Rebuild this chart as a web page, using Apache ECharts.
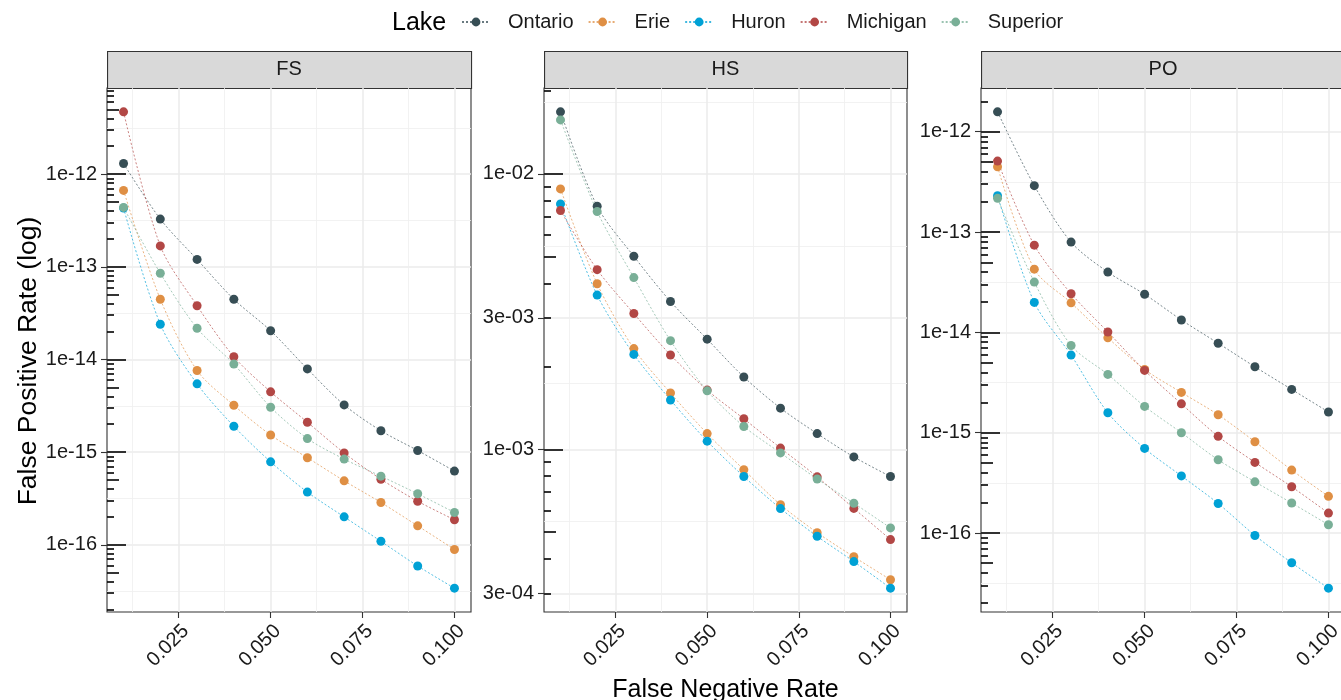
<!DOCTYPE html>
<html>
<head>
<meta charset="utf-8">
<script src="https://cdn.jsdelivr.net/npm/echarts@6/dist/echarts.min.js"></script>
<style>html,body{margin:0;padding:0;background:#fff}#main{width:1341px;height:700px}</style>
</head>
<body>
<div id="main"></div>
<script>
var fnr = [0.01, 0.02, 0.03, 0.04, 0.05, 0.06, 0.07, 0.08, 0.09, 0.10];
var lakes = ['Ontario', 'Erie', 'Huron', 'Michigan', 'Superior'];
var lakeColors = ['#374E55', '#DF8F44', '#00A1D5', '#B24745', '#79AF97'];
var panels = ['FS', 'HS', 'PO'];

// FS panel
var fs_ontario  = [1.30e-12, 3.27e-13, 1.20e-13, 4.46e-14, 2.04e-14, 7.9e-15, 3.23e-15, 1.70e-15, 1.04e-15, 6.24e-16];
var fs_erie     = [6.67e-13, 4.46e-14, 7.6e-15, 3.2e-15, 1.53e-15, 8.7e-16, 4.9e-16, 2.86e-16, 1.60e-16, 8.9e-17];
var fs_huron    = [4.30e-13, 2.40e-14, 5.45e-15, 1.90e-15, 7.85e-16, 3.70e-16, 2.00e-16, 1.09e-16, 5.9e-17, 3.4e-17];
var fs_michigan = [4.70e-12, 1.68e-13, 3.80e-14, 1.07e-14, 4.47e-15, 2.10e-15, 9.8e-16, 5.1e-16, 2.95e-16, 1.86e-16];
var fs_superior = [4.37e-13, 8.5e-14, 2.17e-14, 8.9e-15, 3.05e-15, 1.40e-15, 8.4e-16, 5.5e-16, 3.55e-16, 2.23e-16];

// HS panel
var hs_ontario  = [1.68e-2, 7.63e-3, 5.02e-3, 3.44e-3, 2.51e-3, 1.83e-3, 1.41e-3, 1.14e-3, 9.38e-4, 7.96e-4];
var hs_erie     = [8.82e-3, 3.99e-3, 2.32e-3, 1.60e-3, 1.14e-3, 8.43e-4, 6.29e-4, 4.98e-4, 4.07e-4, 3.36e-4];
var hs_huron    = [7.78e-3, 3.63e-3, 2.21e-3, 1.51e-3, 1.07e-3, 7.96e-4, 6.09e-4, 4.83e-4, 3.91e-4, 3.13e-4];
var hs_michigan = [7.36e-3, 4.49e-3, 3.11e-3, 2.20e-3, 1.64e-3, 1.29e-3, 1.01e-3, 7.94e-4, 6.10e-4, 4.70e-4];
var hs_superior = [1.57e-2, 7.30e-3, 4.20e-3, 2.48e-3, 1.63e-3, 1.21e-3, 9.70e-4, 7.80e-4, 6.37e-4, 5.18e-4];

// PO panel
var po_ontario  = [1.58e-12, 2.90e-13, 7.94e-14, 3.99e-14, 2.40e-14, 1.33e-14, 7.8e-15, 4.54e-15, 2.70e-15, 1.61e-15];
var po_erie     = [4.48e-13, 4.27e-14, 1.97e-14, 8.83e-15, 4.27e-15, 2.52e-15, 1.51e-15, 8.13e-16, 4.24e-16, 2.32e-16];
var po_huron    = [2.30e-13, 1.99e-14, 5.94e-15, 1.58e-15, 6.97e-16, 3.71e-16, 1.97e-16, 9.46e-17, 5.05e-17, 2.82e-17];
var po_michigan = [5.10e-13, 7.4e-14, 2.43e-14, 1.01e-14, 4.18e-15, 1.94e-15, 9.2e-16, 5.06e-16, 2.89e-16, 1.58e-16];
var po_superior = [2.17e-13, 3.17e-14, 7.41e-15, 3.81e-15, 1.83e-15, 1.00e-15, 5.37e-16, 3.24e-16, 1.99e-16, 1.21e-16];

var panelSeries = [
    [fs_ontario, fs_erie, fs_huron, fs_michigan, fs_superior],
    [hs_ontario, hs_erie, hs_huron, hs_michigan, hs_superior],
    [po_ontario, po_erie, po_huron, po_michigan, po_superior]
];

// axis breaks and labels
var x_breaks = [0.025, 0.05, 0.075, 0.1];
var x_labels = ['0.025', '0.050', '0.075', '0.100'];
var fs_breaks = [1e-12, 1e-13, 1e-14, 1e-15, 1e-16];
var fs_labels = ['1e-12', '1e-13', '1e-14', '1e-15', '1e-16'];
var hs_breaks = [1e-2, 3e-3, 1e-3, 3e-4];
var hs_labels = ['1e-02', '3e-03', '1e-03', '3e-04'];
var po_breaks = [1e-12, 1e-13, 1e-14, 1e-15, 1e-16];
var po_labels = ['1e-12', '1e-13', '1e-14', '1e-15', '1e-16'];
var yBreaks = [fs_breaks, hs_breaks, po_breaks];
var yLabels = [fs_labels, hs_labels, po_labels];

var FONT = "'Liberation Sans', Arial, Helvetica, sans-serif";
var panelLeft = [107, 544, 981];
var panelWidth = [364, 363, 364];
var panelTop = 88, panelHeight = 524, stripTop = 51;

// ggplot style 5% expansion
function linExtent(v) {
    var lo = Math.min.apply(null, v), hi = Math.max.apply(null, v), pad = (hi - lo) * 0.05;
    return [lo - pad, hi + pad];
}
function logExtent(lists) {
    var lo = Infinity, hi = -Infinity;
    lists.forEach(function (l) {
        l.forEach(function (v) { var g = Math.log10(v); if (g < lo) lo = g; if (g > hi) hi = g; });
    });
    var pad = (hi - lo) * 0.05;
    return [Math.pow(10, lo - pad), Math.pow(10, hi + pad)];
}
function minorOf(breaks, isLog) {
    var b = breaks.map(function (v) { return isLog ? Math.log10(v) : v; }).sort(function (a, c) { return a - c; });
    var n = b.length;
    b = [b[0] - (b[1] - b[0])].concat(b, [b[n - 1] + (b[n - 1] - b[n - 2])]);
    var out = [];
    for (var i = 0; i < b.length - 1; i++) {
        var m = (b[i] + b[i + 1]) / 2;
        out.push(isLog ? Math.pow(10, m) : m);
    }
    return out;
}
function logTicks(ext, mults) {
    var out = [];
    var k0 = Math.floor(Math.log10(ext[0])), k1 = Math.ceil(Math.log10(ext[1]));
    for (var k = k0; k <= k1; k++) {
        mults.forEach(function (m) {
            var v = m * Math.pow(10, k);
            if (v >= ext[0] && v <= ext[1]) out.push(v);
        });
    }
    return out;
}
function labelFor(v, breaks, labels, isLog) {
    for (var i = 0; i < breaks.length; i++) {
        var d = isLog ? Math.abs(Math.log10(v / breaks[i])) : Math.abs(v - breaks[i]);
        if (d < 1e-6) return labels[i];
    }
    return '';
}

var xExt = linExtent(fnr);
var xMinor = minorOf(x_breaks, false);

var grids = [], xAxes = [], yAxes = [], series = [], graphics = [];

panels.forEach(function (name, p) {
    grids.push({
        left: panelLeft[p], top: panelTop, width: panelWidth[p], height: panelHeight,
        show: true, borderColor: '#333333', borderWidth: 1.1, backgroundColor: '#ffffff',
        containLabel: false, outerBoundsMode: 'none'
    });

    xAxes.push({
        type: 'value', gridIndex: p, position: 'bottom', min: xExt[0], max: xExt[1],
        name: p === 1 ? 'False Negative Rate' : '',
        nameLocation: 'middle', nameGap: 60,
        nameTextStyle: { fontSize: 25, color: '#000', fontFamily: FONT },
        axisLine: { show: false },
        axisTick: { show: true, length: 6, customValues: x_breaks, lineStyle: { color: '#333', width: 1.1 } },
        axisLabel: {
            customValues: x_breaks, rotate: 45, margin: 9, verticalAlign: 'top',
            fontSize: 20, color: '#1a1a1a', fontFamily: FONT,
            formatter: function (v) { return labelFor(v, x_breaks, x_labels, false); }
        },
        splitLine: { show: true, lineStyle: { color: '#EBEBEB', width: 1.5 } }
    });
    xAxes.push({
        type: 'value', gridIndex: p, position: 'bottom', min: xExt[0], max: xExt[1],
        axisLine: { show: false },
        axisTick: { show: false, customValues: xMinor },
        axisLabel: { show: false },
        splitLine: { show: true, lineStyle: { color: '#EFEFEF', width: 0.8 } }
    });

    var yExt = logExtent(panelSeries[p]);
    var br = yBreaks[p], lb = yLabels[p];
    var base = { type: 'log', logBase: 10, gridIndex: p, position: 'left', min: yExt[0], max: yExt[1], axisLine: { show: false } };

    yAxes.push(Object.assign({}, base, {
        axisTick: { show: true, length: 6, customValues: br, lineStyle: { color: '#333', width: 1.1 } },
        axisLabel: {
            customValues: br, margin: 10, fontSize: 20, color: '#1a1a1a', fontFamily: FONT,
            formatter: function (v) { return labelFor(v, br, lb, true); }
        },
        splitLine: { show: true, lineStyle: { color: '#EBEBEB', width: 1.5 } }
    }));
    yAxes.push(Object.assign({}, base, {
        axisTick: { show: false, customValues: minorOf(br, true) },
        axisLabel: { show: false },
        splitLine: { show: true, lineStyle: { color: '#EFEFEF', width: 0.8 } }
    }));
    // log ticks inside the panel: long at 10^k, medium at 5*10^k, short elsewhere
    [[[1], 19], [[5], 12], [[2, 3, 4, 6, 7, 8, 9], 7]].forEach(function (t) {
        yAxes.push(Object.assign({}, base, {
            axisTick: { show: true, inside: true, length: t[1], customValues: logTicks(yExt, t[0]), lineStyle: { color: '#000', width: 1.6 } },
            axisLabel: { show: false },
            splitLine: { show: false }
        }));
    });

    lakes.forEach(function (lake, i) {
        series.push({
            name: lake, type: 'line', xAxisIndex: 2 * p, yAxisIndex: 5 * p,
            data: fnr.map(function (x, j) { return [x, panelSeries[p][i][j]]; }),
            smooth: 0.3, symbol: 'circle', symbolSize: 9, showSymbol: true,
            itemStyle: { color: lakeColors[i], opacity: 1 },
            lineStyle: { color: lakeColors[i], width: 0.9, type: [2, 2], opacity: 0.75 },
            emphasis: { disabled: true }, z: 3
        });
    });

    // facet strip
    graphics.push({
        type: 'rect', left: panelLeft[p], top: stripTop, silent: true,
        shape: { width: panelWidth[p], height: panelTop - stripTop },
        style: { fill: '#D9D9D9', stroke: '#333333', lineWidth: 1.1 }
    });
    graphics.push({
        type: 'text', x: panelLeft[p] + panelWidth[p] / 2, y: stripTop + (panelTop - stripTop) / 2, silent: true,
        style: { text: name, fontSize: 20, fontFamily: FONT, fill: '#1a1a1a', align: 'center', verticalAlign: 'middle' }
    });
});

graphics.push({
    type: 'text', x: 29, y: 361, rotation: Math.PI / 2, silent: true,
    style: { text: 'False Positive Rate (log)', fontSize: 26.5, fontFamily: FONT, fill: '#000', align: 'center', verticalAlign: 'middle' }
});

var chart = echarts.init(document.getElementById('main'));
chart.setOption({
    backgroundColor: '#ffffff',
    animation: false,
    title: { text: 'Lake', left: 387, top: 6, textStyle: { fontSize: 25, fontWeight: 'normal', color: '#000', fontFamily: FONT } },
    legend: {
        data: lakes, left: 461, top: 12, padding: 0, itemWidth: 28, itemHeight: 11, itemGap: 14,
        textStyle: { fontSize: 20, color: '#1a1a1a', fontFamily: FONT, padding: [0, 0, 0, 13] }
    },
    grid: grids,
    xAxis: xAxes,
    yAxis: yAxes,
    series: series,
    graphic: graphics
});
</script>
</body>
</html>
